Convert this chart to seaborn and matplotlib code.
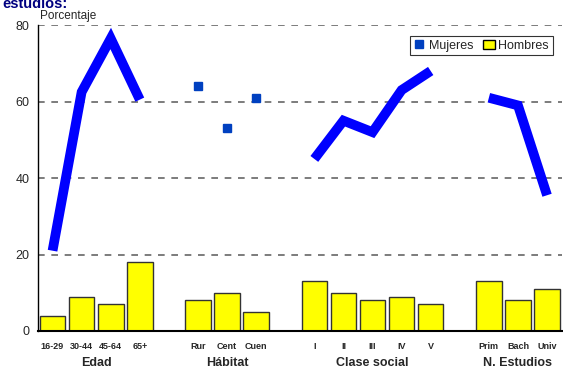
# Mujeres vs Hombres por grupo (porcentaje)

import pandas as pd
import matplotlib.pyplot as plt
import seaborn as sns
from matplotlib.lines import Line2D
from matplotlib.patches import Patch

# Data
slots = ['16-29', '30-44', '45-64', '65+', '',
         'Rur', 'Cent', 'Cuen', ' ',
         'I', 'II', 'III', 'IV', 'V', '  ',
         'Prim', 'Bach', 'Univ']
groups = ['Edad', 'Hábitat', 'Clase social', 'N. Estudios']
group_cats = [['16-29', '30-44', '45-64', '65+'],
              ['Rur', 'Cent', 'Cuen'],
              ['I', 'II', 'III', 'IV', 'V'],
              ['Prim', 'Bach', 'Univ']]
mujeres = [21, 62.5, 76.5, 60.5,
           64, 53, 61,
           45, 55, 52, 63, 68,
           61, 59, 35.5]
hombres = [4, 9, 7, 18,
           8, 10, 5,
           13, 10, 8, 9, 7,
           13, 8, 11]

cats = [c for g in group_cats for c in g]
grp = [groups[i] for i, g in enumerate(group_cats) for _ in g]
df = pd.DataFrame({'cat': cats, 'grupo': grp, 'Mujeres': mujeres, 'Hombres': hombres})
df['pos'] = [slots.index(c) for c in df['cat']]

sns.set_style('white')
plt.rcParams['font.family'] = ['Liberation Sans', 'DejaVu Sans']

fig = plt.figure(figsize=(5.63, 3.69), dpi=100)
ax = fig.add_axes([0.0675, 0.103, 0.93, 0.829])

blue_line = '#0000FF'
blue_mark = '#0040C0'

# bars for men
sns.barplot(data=df, x='cat', y='Hombres', order=slots, color='#FFFF00',
            edgecolor='#333333', linewidth=1.0, width=0.88, saturation=1, ax=ax)

# women: thick lines for Edad, Clase social, Estudios; markers for Hábitat
for g in groups:
    sub = df[df['grupo'] == g]
    if g == 'Hábitat':
        ax.plot(sub['pos'], sub['Mujeres'], 's', color=blue_mark, markersize=5.5, zorder=4)
    else:
        sns.lineplot(x=sub['pos'].values, y=sub['Mujeres'].values, color=blue_line,
                     linewidth=7, ax=ax, zorder=4,
                     solid_joinstyle='miter', solid_capstyle='butt')

ax.set_xlim(-0.5, len(slots) - 0.5)
ax.set_ylim(0, 80)
ax.set_yticks([0, 20, 40, 60, 80])
ax.set_yticklabels(['0', '20', '40', '60', '80'], fontsize=9)
for v in [20, 40, 60, 80]:
    ax.axhline(v, color='#666666', linestyle=(0, (4, 4)), linewidth=1.2, zorder=0)

ax.set_xticks(range(len(slots)))
ax.set_xticklabels(slots, fontsize=6.5, fontweight='bold')
ax.tick_params(axis='x', length=0, pad=8)
ax.tick_params(axis='y', length=0, pad=6)
ax.set_xlabel('')
ax.set_ylabel('')

for s in ['top', 'right']:
    ax.spines[s].set_visible(False)
ax.spines['left'].set_color('black')
ax.spines['bottom'].set_color('black')
ax.spines['left'].set_linewidth(1)
ax.spines['bottom'].set_linewidth(1.5)

# group labels under the ticks
for g, cs in zip(groups, group_cats):
    xs = [slots.index(c) for c in cs]
    ax.text((min(xs) + max(xs)) / 2, -0.105, g, transform=ax.get_xaxis_transform(),
            ha='center', va='center', fontsize=9, fontweight='bold')

handles = [Line2D([0], [0], marker='s', color='none', markerfacecolor=blue_mark,
                  markeredgecolor=blue_mark, markersize=6),
           Patch(facecolor='#FFFF00', edgecolor='black')]
leg = ax.legend(handles, ['Mujeres', 'Hombres'], loc='upper right',
                bbox_to_anchor=(0.995, 0.985), ncol=2, fontsize=9, frameon=True,
                fancybox=False, handlelength=0.9, handletextpad=0.3,
                columnspacing=0.8, borderpad=0.3)
leg.get_frame().set_edgecolor('black')
leg.get_frame().set_linewidth(0.8)

fig.text(0.071, 0.948, 'Porcentaje', fontsize=8.5)
fig.text(0.005, 0.988, 'estudios:', fontsize=10.5, fontweight='bold', color='#000080', va='center')

plt.savefig('out.png', dpi=100)
